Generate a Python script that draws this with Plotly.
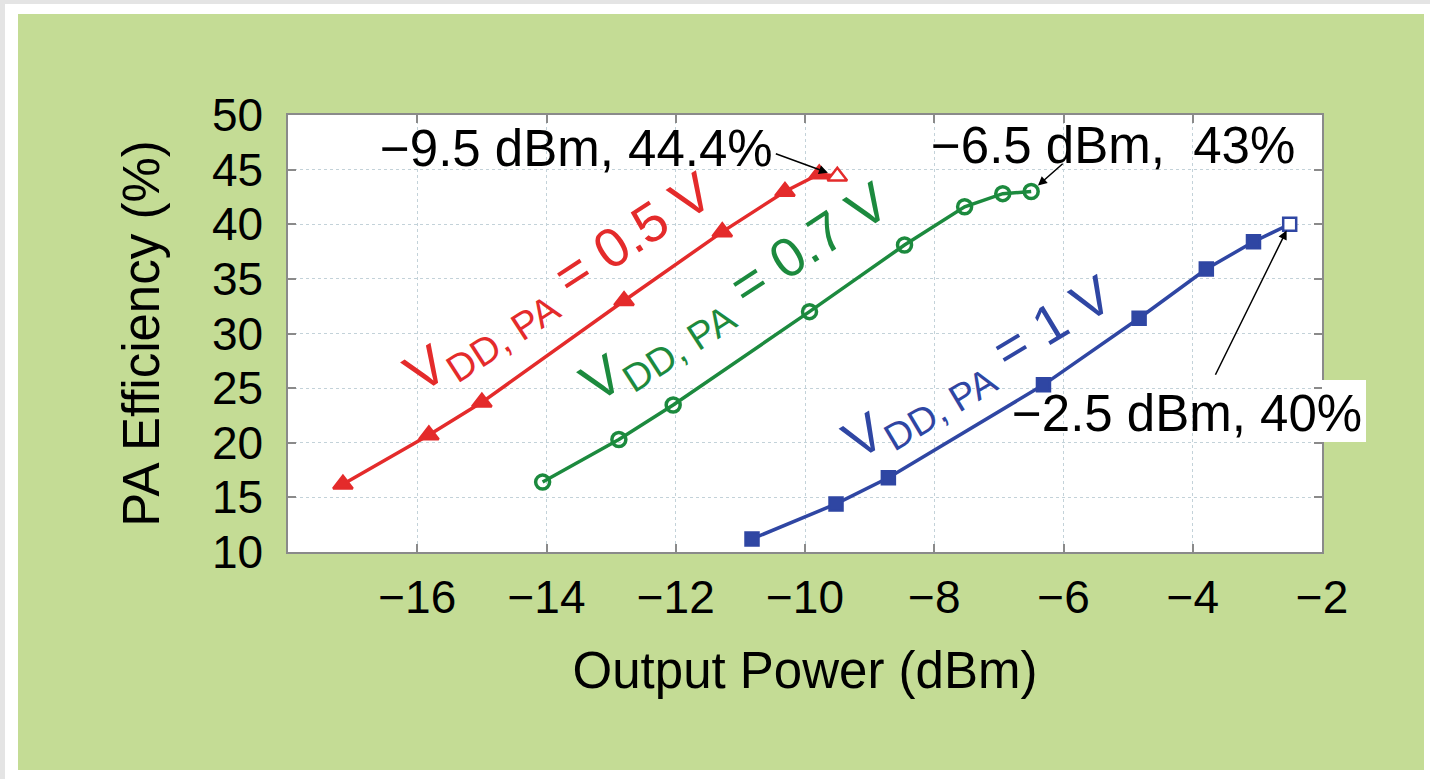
import plotly.graph_objects as go

# Output power (dBm) and PA efficiency (%) for three supply voltages
red_x = [-17.15, -15.82, -15.0, -12.8, -11.28, -10.31, -9.78, -9.5]
red_y = [16.2, 20.7, 23.7, 33.0, 39.3, 43.0, 44.6, 44.4]
green_x = [-14.06, -12.88, -12.04, -9.93, -8.46, -7.53, -6.94, -6.5]
green_y = [16.4, 20.3, 23.45, 32.0, 38.1, 41.6, 42.8, 43.0]
blue_x = [-10.82, -9.52, -8.71, -6.31, -4.83, -3.79, -3.06, -2.5]
blue_y = [11.2, 14.4, 16.8, 25.3, 31.4, 35.9, 38.4, 40.0]

x_ticks = [-16, -14, -12, -10, -8, -6, -4, -2]
x_tick_text = ["\u221216", "\u221214", "\u221212", "\u221210", "\u22128", "\u22126", "\u22124", "\u22122"]
y_ticks = [10, 15, 20, 25, 30, 35, 40, 45, 50]

RED = "#e42b2b"
GREEN = "#1c8a3e"
BLUE = "#2f46a3"
FONT = "Liberation Sans, Arial, Helvetica, sans-serif"

W, H = 1430, 779
L, R, T, B = 288, 108, 115, 227
PW, PH = W - L - R, H - T - B


def px_x(p):
    return (p - L) / PW


def px_y(p):
    return (H - B - p) / PH


fig = go.Figure()

fig.add_trace(go.Scatter(
    x=red_x, y=red_y, mode="lines+markers",
    line=dict(color=RED, width=3.5),
    marker=dict(symbol="triangle-up", size=17,
                color=[RED] * (len(red_x) - 1) + ["white"],
                line=dict(color=RED, width=2.5)),
    showlegend=False, cliponaxis=False))

fig.add_trace(go.Scatter(
    x=green_x, y=green_y, mode="lines+markers",
    line=dict(color=GREEN, width=3.5),
    marker=dict(symbol="circle-open", size=14, color=GREEN,
                line=dict(color=GREEN, width=3.5)),
    showlegend=False, cliponaxis=False))

fig.add_trace(go.Scatter(
    x=blue_x, y=blue_y, mode="lines+markers",
    line=dict(color=BLUE, width=3.5),
    marker=dict(symbol="square", size=13,
                color=[BLUE] * (len(blue_x) - 1) + ["white"],
                line=dict(color=BLUE, width=2.5)),
    showlegend=False, cliponaxis=False))

# Panel frame: white margin, thin grey edge, green card behind the axes
shapes = [
    dict(type="rect", xref="paper", yref="paper", layer="below",
         x0=px_x(0), x1=px_x(W), y0=px_y(0), y1=px_y(14),
         fillcolor="white", line_width=0),
    dict(type="rect", xref="paper", yref="paper", layer="below",
         x0=px_x(0), x1=px_x(18), y0=px_y(0), y1=px_y(H),
         fillcolor="white", line_width=0),
    dict(type="rect", xref="paper", yref="paper", layer="below",
         x0=px_x(1424), x1=px_x(W), y0=px_y(0), y1=px_y(H),
         fillcolor="white", line_width=0),
    dict(type="rect", xref="paper", yref="paper", layer="below",
         x0=px_x(0), x1=px_x(W), y0=px_y(770), y1=px_y(H),
         fillcolor="white", line_width=0),
    dict(type="rect", xref="paper", yref="paper", layer="below",
         x0=px_x(0), x1=px_x(W), y0=px_y(0), y1=px_y(4),
         fillcolor="#e4e4e4", line_width=0),
    dict(type="rect", xref="paper", yref="paper", layer="below",
         x0=px_x(0), x1=px_x(5), y0=px_y(0), y1=px_y(H),
         fillcolor="#e4e4e4", line_width=0),
    # white backing of the -2.5 dBm label where it runs past the axes
    dict(type="rect", xref="paper", yref="paper", layer="above",
         x0=1.0, x1=px_x(1366), y0=px_y(380), y1=px_y(442),
         fillcolor="white", line_width=0),
]

annotations = [
    # curve labels
    dict(x=-13.77, y=34.4, xref="x", yref="y", showarrow=False, textangle=-33,
         text="V<sub>DD, PA</sub> = 0.5 V", font=dict(family=FONT, size=55, color=RED)),
    dict(x=-11.05, y=33.5, xref="x", yref="y", showarrow=False, textangle=-33,
         text="V<sub>DD, PA</sub> = 0.7 V", font=dict(family=FONT, size=55, color=GREEN)),
    dict(x=-7.30, y=26.7, xref="x", yref="y", showarrow=False, textangle=-31,
         text="V<sub>DD, PA</sub> = 1 V", font=dict(family=FONT, size=54, color=BLUE)),
    # callout texts
    dict(x=-13.54, y=46.96, xref="x", yref="y", showarrow=False,
         text="\u22129.5 dBm, 44.4%", font=dict(family=FONT, size=51, color="black")),
    dict(x=-5.24, y=47.24, xref="x", yref="y", showarrow=False,
         text="\u22126.5 dBm,\u00a0 43%", font=dict(family=FONT, size=51, color="black")),
    dict(x=-4.09, y=22.72, xref="x", yref="y", showarrow=False,
         text="\u22122.5 dBm, 40%", font=dict(family=FONT, size=51, color="black")),
    # callout arrows
    dict(x=red_x[-1], y=red_y[-1], xref="x", yref="y", text="", showarrow=True,
         ax=-63, ay=-23, arrowhead=2, arrowsize=1.2, arrowwidth=1.5,
         arrowcolor="black", standoff=10),
    dict(x=green_x[-1], y=green_y[-1], xref="x", yref="y", text="", showarrow=True,
         ax=33, ay=-29, arrowhead=2, arrowsize=1.2, arrowwidth=1.5,
         arrowcolor="black", standoff=9),
    dict(x=blue_x[-1], y=blue_y[-1], xref="x", yref="y", text="", showarrow=True,
         ax=-75, ay=152, arrowhead=2, arrowsize=1.2, arrowwidth=1.5,
         arrowcolor="black", standoff=7),
]

axis_common = dict(
    showgrid=True, gridcolor="#c3d2d9", griddash="dot", gridwidth=1.2,
    zeroline=False, showline=True, linecolor="#8a8a8a", linewidth=1.5,
    mirror="allticks", ticks="inside", ticklen=8, tickcolor="#8a8a8a", tickwidth=1.5,
    tickfont=dict(family=FONT, size=46, color="black"),
)

fig.update_layout(
    width=W, height=H,
    margin=dict(l=L, r=R, t=T, b=B, autoexpand=False),
    paper_bgcolor="#c4dc95",
    plot_bgcolor="white",
    shapes=shapes,
    annotations=annotations,
    xaxis=dict(axis_common, range=[-18, -2], tickvals=x_ticks, ticktext=x_tick_text,
               ticklabelstandoff=4,
               title=dict(text="Output Power (dBm)", standoff=30,
                          font=dict(family=FONT, size=51, color="black"))),
    yaxis=dict(axis_common, range=[10, 50], tickvals=y_ticks,
               ticklabelstandoff=14,
               title=dict(text="PA Efficiency (%)", standoff=36,
                          font=dict(family=FONT, size=51, color="black"))),
)

fig.write_html("out.html")
